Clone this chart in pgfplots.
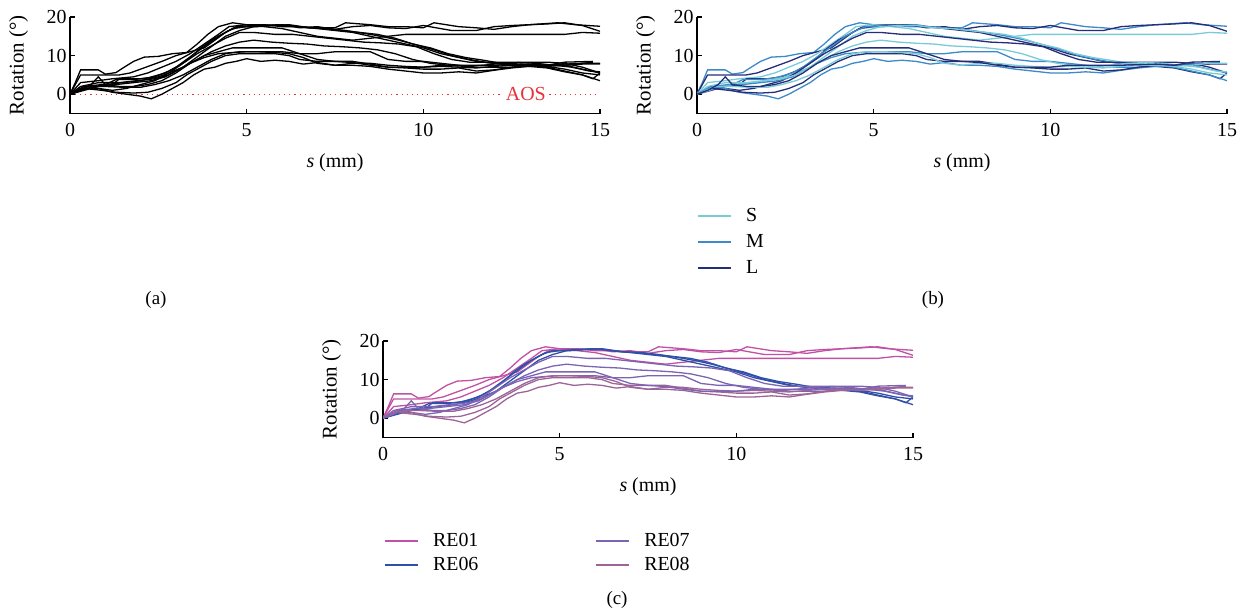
\documentclass[border=0pt]{standalone}
\usepackage{fontspec}
\setmainfont{Liberation Serif}
\usepackage{pgfplots}
\usepackage{pgfplotstable}
\pgfplotsset{compat=1.18}

\definecolor{cS}{HTML}{79CBD8}
\definecolor{cM}{HTML}{3C8AC9}
\definecolor{cL}{HTML}{262E78}
\definecolor{rA}{HTML}{C151A4}
\definecolor{rB}{HTML}{2F4FA8}
\definecolor{rC}{HTML}{7D63B3}
\definecolor{rD}{HTML}{9C6497}
\definecolor{aos}{HTML}{E8323A}

\newcommand\lab{\fontsize{20}{24}\selectfont}

% one table per specimen curve: s (mm), rotation (deg)
\pgfplotstableread{
0 0
0.15 3
0.3 6.3
0.8 6.3
1.0 5.2
1.3 5.6
1.5 6.8
1.8 8.5
2.1 9.6
2.5 9.8
2.9 10.5
3.3 10.8
3.6 13
3.9 15.5
4.2 17.5
4.6 18.5
5.0 18
5.5 18
6.0 17.5
6.5 17.5
7.0 17.2
7.5 17.2
7.8 18.5
8.5 18
9.0 17.5
9.5 17.5
10.0 17.2
10.3 18.5
11.0 17.5
11.5 17.2
12.0 16.8
12.5 17.5
13.0 18
13.8 18.5
14.3 18
15 17.6
}\cA
\pgfplotstableread{
0 0
0.3 5
1.4 5
1.7 5.5
2.0 6.5
2.3 7.5
2.6 8.5
3.0 10
3.4 11
3.8 12
4.1 14
4.4 16
4.7 17.5
5.2 17.8
6.0 18
6.5 17.2
7.0 17.5
7.5 16.8
8.0 17.5
8.5 17.8
9.0 17.2
9.5 17
10.0 17.8
10.3 17.3
10.8 16.5
11.5 16.5
12.0 17.5
12.5 17.8
13.0 18
13.5 18.2
14.0 18.5
14.5 17.8
15 16.3
}\cB
\pgfplotstableread{
0 0
0.3 3
0.8 3.5
1.2 4
1.8 4.5
2.2 5.5
2.6 7
3.0 8.5
3.4 10.5
3.8 13
4.2 15.5
4.5 17.5
5.0 18
5.5 17.5
6.0 17
6.5 16
7.0 15
7.5 14.5
8.0 14
8.5 14.5
9.0 15
9.5 15.5
10.0 15.5
11.0 15.5
12.0 15.5
13.0 15.5
14.0 15.5
14.5 16
15 15.8
}\cC
\pgfplotstableread{
0 0
0.4 1
0.8 2
1.2 2.5
1.4 4
2.0 4
2.4 4.5
2.8 6
3.1 7.5
3.4 9.5
3.7 12
4.0 14
4.3 15.5
4.6 17
5.0 17.5
5.5 17.8
6.0 18
6.5 17.5
7.0 17
7.5 16.5
8.0 16
8.5 15
9.0 14
9.5 13
10.0 12
10.5 10.5
11.0 9.5
11.5 8.5
12.0 8
12.5 7.5
13.0 7.2
13.5 6.8
14.0 5.8
14.5 5
14.8 4
15 5.5
}\cD
\pgfplotstableread{
0 0
0.5 1.5
1.0 2.5
1.3 3.8
1.8 3.8
2.2 4.2
2.7 5.5
3.0 7
3.3 9
3.6 11
3.9 13
4.2 15
4.5 16.5
4.8 17.5
5.3 17.5
5.8 17.8
6.2 18
6.8 17.2
7.3 17
7.8 16.5
8.3 15.8
8.8 15
9.3 14
9.8 12.8
10.3 11.5
10.8 10
11.3 9
11.8 8.2
12.3 7.8
13.0 7.5
13.5 7
14.0 6
14.5 5
15 3.5
}\cE
\pgfplotstableread{
0 0
0.5 1.5
1.0 2.5
1.5 3
2.0 3.5
2.5 4.5
2.8 5.5
3.2 7
3.5 9
3.8 11
4.1 13
4.4 15
4.8 16.5
5.2 17.5
5.7 17.8
6.2 17.8
6.7 17.2
7.2 17
7.7 16.5
8.2 16
8.7 15.5
9.2 14.5
9.7 13
10.2 12
10.7 10.5
11.2 9.5
11.7 8.8
12.2 8
12.8 7.8
13.5 7.2
14.0 6.5
14.5 5.5
15 5
}\cF
\pgfplotstableread{
0 0
0.4 1.5
0.8 1.5
1.2 1
1.6 1.5
2.0 2.5
2.4 3.5
2.8 5.5
3.2 8
3.6 10.5
4.0 12.5
4.4 14.5
4.8 16
5.2 16
5.8 15.5
6.3 15.5
6.8 15
7.3 14.5
7.8 14
8.3 13.5
8.8 13.3
9.3 13
9.8 12.3
10.3 10.5
10.8 9
11.3 8.3
11.8 8.3
12.5 8.3
13.0 8.3
13.5 8.3
14.0 8
14.5 7
15 5.5
}\cG
\pgfplotstableread{
0 0
0.4 2
0.9 2.5
1.3 2.5
1.8 3
2.3 3.5
2.7 4.5
3.0 6
3.4 8
3.8 9.5
4.2 10.5
4.6 10.8
5.0 11
5.5 11
6.0 11
6.5 10.5
7.0 10.5
7.5 11
8.0 11
8.5 11
9.0 9
9.5 8.5
10.0 8.5
10.5 8
11.0 7.5
11.5 7
12.0 7
12.5 7
13.0 7.5
13.5 7.5
14.0 7.5
14.5 6.5
15 5.5
}\cH
\pgfplotstableread{
0 0
0.3 2
0.8 3
1.4 3
1.9 3.5
2.4 4
2.8 5
3.2 7
3.6 9
4.0 11
4.4 12.5
4.8 13.5
5.2 14
5.7 13.5
6.2 13.2
6.7 13
7.2 12.5
7.7 12.3
8.2 12
8.7 11.5
9.2 10.5
9.7 9
10.2 8
10.7 7.5
11.2 7.2
11.7 7.5
12.2 8
12.7 8.2
13.2 8
13.7 7.5
14.2 7
14.7 6
15 5.8
}\cI
\pgfplotstableread{
0 0
0.4 2
0.8 1.5
1.2 0.5
1.6 0
2.0 -0.5
2.3 -1.2
2.6 0
2.9 1.5
3.2 3
3.5 5
3.8 6.5
4.1 7
4.4 8
4.7 8.5
5.0 9.2
5.4 8.5
5.8 8.8
6.2 8.5
6.6 7.8
7.0 8.2
7.5 7.5
8.0 7.5
8.5 7.2
9.0 6.5
9.5 6
10.0 5.5
10.5 5.5
11.0 5.8
11.5 5.5
12.0 6.2
12.5 6.8
13.0 7.2
13.5 7.5
14.0 7.8
14.5 8
14.8 8.3
}\cJ
\pgfplotstableread{
0 0
0.4 1.5
0.9 1
1.3 0.5
1.8 0.3
2.2 0.5
2.6 1.5
3.0 3
3.3 5
3.6 6.5
4.0 8.5
4.4 10
4.8 10.5
5.3 10.5
5.8 10.5
6.2 10
6.5 9
7.0 8.5
7.5 8.5
8.0 8.5
8.5 7.8
9.0 7
9.5 6.8
10.0 6.5
10.5 6.5
11.0 6.8
11.5 6
12.0 6.3
12.5 7
13.0 7.5
13.5 7.5
14.0 7.5
14.5 7.8
15 7.8
}\cK
\pgfplotstableread{
0 0
0.5 2
1.0 2
1.5 1.8
2.0 1.8
2.4 2.5
2.8 3.5
3.2 5
3.6 7
4.0 9
4.4 10.5
4.8 11
5.3 11
5.8 10.8
6.2 10.5
6.6 9.5
7.0 8
7.5 7.5
8.0 8
8.5 8
9.0 7.5
9.5 7.2
10.0 7
10.5 7.2
11.0 7
11.5 6.8
12.0 7.2
12.5 7.5
13.0 7.5
13.5 7.2
14.0 7.5
14.5 8
15 8
}\cL
\pgfplotstableread{
0 0
0.3 1
0.6 2.5
0.8 4.5
1.0 2.5
1.4 2
1.8 2
2.2 2.5
2.6 3.5
3.0 5.5
3.4 8
3.8 10
4.2 11
4.6 12
5.0 12
5.5 12
6.0 12
6.5 10.5
7.0 9
7.5 8.5
8.0 8.2
8.5 7.5
9.0 7
9.5 7
10.0 7
10.5 7.5
11.0 7.5
12.0 7.5
13.0 7.8
13.5 7.5
14.0 8.3
14.8 8.5
}\cM

\pgfplotsset{
  rot/.style={
    scale only axis, width=530bp, height=96.5bp,
    xmin=0, xmax=15, ymin=-5, ymax=20,
    axis x line*=bottom, axis y line*=left,
    axis line style={line width=1.1bp},
    tick align=inside, major tick length=5bp,
    every tick/.style={black, line width=1.1bp},
    xtick={0,5,10,15}, ytick={0,10,20},
    tick label style={font=\lab},
    /pgf/number format/assume math mode=true,
    xticklabel style={anchor=center, yshift=-16.5bp},
    xlabel={\textit{s} (mm)}, ylabel={Rotation (°)},
    label style={font=\lab},
    xlabel style={at={(axis description cs:0.5,-0.508)}, anchor=center},
    ylabel style={at={(axis description cs:-0.097,0.5)}, anchor=center,
      font=\fontsize{21}{24}\selectfont},
    legend cell align=left,
    legend image code/.code={\draw[##1, line width=1.8bp] (0bp,0bp) -- (33bp,0bp);},
    legend style={draw=none, fill=none, inner sep=0bp,
      nodes={inner xsep=6bp, inner ysep=0bp, text height=14bp, text depth=4bp, font=\lab},
      /tikz/every odd column/.append style={column sep=8bp}},
    every axis plot/.append style={line width=1.3bp, forget plot},
  }
}

\begin{document}
\begin{tikzpicture}
\useasboundingbox (0,0) rectangle (1246bp,-613bp);

% (a)
\begin{axis}[rot, at={(70bp,-113.5bp)}, anchor=south west]
\addplot[aos, line width=1.1bp, dash pattern=on 1.1bp off 4bp] coordinates {(0,0) (15,0)};
\addplot[black] table {\cA};
\addplot[black] table {\cB};
\addplot[black] table {\cC};
\addplot[black] table {\cD};
\addplot[black] table {\cE};
\addplot[black] table {\cF};
\addplot[black] table {\cG};
\addplot[black] table {\cH};
\addplot[black] table {\cI};
\addplot[black] table {\cJ};
\addplot[black] table {\cK};
\addplot[black] table {\cL};
\addplot[black] table {\cM};
\node[fill=white, text=aos, font=\lab, inner xsep=3bp, inner ysep=1bp] at (axis cs:12.9,0) {AOS};
\end{axis}

% (b)
\begin{axis}[rot, at={(697bp,-113.5bp)}, anchor=south west,
  legend style={at={(axis description cs:0,-0.969)}, anchor=north west, row sep=8bp}]
\addplot[cM] table {\cA};
\addplot[cL] table {\cB};
\addplot[cS] table {\cC};
\addplot[cL] table {\cD};
\addplot[cM] table {\cE};
\addplot[cS] table {\cF};
\addplot[cL] table {\cG};
\addplot[cM] table {\cH};
\addplot[cS] table {\cI};
\addplot[cM] table {\cJ};
\addplot[cL] table {\cK};
\addplot[cS] table {\cL};
\addplot[cL] table {\cM};
\addlegendimage{cS}\addlegendentry{S}
\addlegendimage{cM}\addlegendentry{M}
\addlegendimage{cL}\addlegendentry{L}
\end{axis}

% (c)
\begin{axis}[rot, at={(383bp,-437.5bp)}, anchor=south west,
  legend columns=2,
  legend style={at={(axis description cs:0.002,-0.979)}, anchor=north west, row sep=6bp,
    /tikz/every even column/.append style={column sep=111bp}}]
\addplot[rA] table {\cA};
\addplot[rA] table {\cB};
\addplot[rA] table {\cC};
\addplot[rB] table {\cD};
\addplot[rB] table {\cE};
\addplot[rB] table {\cF};
\addplot[rC] table {\cG};
\addplot[rC] table {\cH};
\addplot[rC] table {\cI};
\addplot[rD] table {\cJ};
\addplot[rD] table {\cK};
\addplot[rD] table {\cL};
\addplot[rC] table {\cM};
\addlegendimage{rA}\addlegendentry{RE01}
\addlegendimage{rC}\addlegendentry{RE07}
\addlegendimage{rB}\addlegendentry{RE06}
\addlegendimage{rD}\addlegendentry{RE08}
\end{axis}

\node[font=\fontsize{19}{22}\selectfont] at (156bp,-300bp) {(a)};
\node[font=\fontsize{19}{22}\selectfont] at (933bp,-300bp) {(b)};
\node[font=\fontsize{19}{22}\selectfont] at (617bp,-600bp) {(c)};
\end{tikzpicture}
\end{document}
